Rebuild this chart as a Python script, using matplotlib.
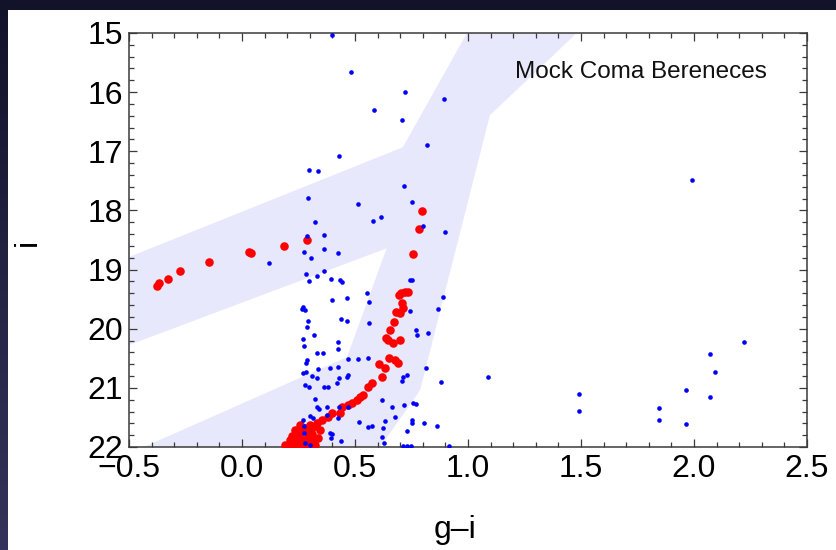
import numpy as np
import matplotlib
matplotlib.use("Agg")
import matplotlib.pyplot as plt
from matplotlib.patches import Rectangle
from matplotlib.ticker import MultipleLocator

plt.rcParams['font.family'] = ['Liberation Sans', 'DejaVu Sans']

# ---- selection regions in the colour-magnitude plane (g-i, i) ----
hb_band_gi = [-0.6, 0.85, 0.85, -0.6]
hb_band_i = [18.94, 16.72, 18.34, 20.42]

rgb_band_gi = [-0.612, 0.465, 0.64, 0.712, 1.025, 1.537, 1.097, 0.788, 0.556]
rgb_band_i = [22.3, 20.48, 18.64, 16.93, 14.8, 14.8, 16.39, 21.04, 22.3]

# ---- mock member stars (red) ----
member_gi = [
    -0.376, -0.367, -0.327, -0.274, -0.146, 0.031, 0.040, 0.186, 0.288,
    0.796, 0.783, 0.757, 0.735, 0.721, 0.704, 0.695, 0.708, 0.712, 0.681,
    0.699, 0.673, 0.655, 0.637, 0.646, 0.668, 0.699, 0.650, 0.677, 0.690,
    0.606, 0.633, 0.619, 0.575, 0.558, 0.535, 0.522, 0.509, 0.487, 0.469,
    0.442, 0.434, 0.398, 0.381, 0.354, 0.332, 0.314, 0.288, 0.257, 0.243,
    0.226,
    0.257, 0.279, 0.301, 0.235, 0.243, 0.270, 0.292, 0.310, 0.212, 0.235,
    0.257, 0.279, 0.323, 0.336, 0.204, 0.221, 0.265, 0.301, 0.345, 0.190,
    0.239, 0.283, 0.310, 0.252, 0.217, 0.296,
]
member_i = [
    19.28, 19.23, 19.16, 19.02, 18.87, 18.70, 18.72, 18.60, 18.50,
    18.01, 18.31, 18.74, 19.38, 19.38, 19.40, 19.43, 19.57, 19.65, 19.72,
    19.73, 19.89, 20.02, 20.16, 20.19, 20.24, 20.19, 20.50, 20.53, 20.58,
    20.60, 20.66, 20.82, 20.92, 20.99, 21.12, 21.15, 21.21, 21.26, 21.29,
    21.32, 21.43, 21.43, 21.49, 21.54, 21.59, 21.66, 21.71, 21.76, 21.85,
    21.93,
    21.63, 21.68, 21.75, 21.71, 21.80, 21.88, 21.83, 21.90, 21.88, 21.98,
    21.97, 21.98, 21.97, 21.85, 21.98, 21.81, 21.71, 21.63, 21.71, 21.97,
    21.90, 21.93, 21.78, 21.99, 21.99, 21.99,
]

# ---- field stars (blue) ----
field_gi = [
    0.400, 0.482, 0.584, 0.708, 0.721, 0.894, 0.819, 0.429, 0.296, 0.336,
    0.717, 0.752, 0.801, 0.898, 0.615, 0.580, 1.991, 0.292, 0.513, 0.323,
    0.363, 0.288, 0.274, 0.363, 0.425, 0.305, 0.119, 0.283, 0.332, 0.363,
    0.296, 0.394, 0.434, 0.442, 0.553, 0.562, 0.465, 0.398, 0.743, 0.752,
    0.889, 0.867, 0.743, 0.270, 0.265, 0.279, 0.438, 0.465, 0.292, 0.288,
    0.562, 0.770, 0.774, 0.823, 0.319, 0.270, 0.425, 0.425, 0.274, 0.332,
    0.358, 0.469, 0.513, 0.558, 0.814, 0.288, 0.283, 0.389, 0.425, 0.336,
    0.469, 0.465, 0.270, 0.283, 0.310, 0.381, 0.363, 0.420, 0.429, 0.332,
    0.279, 0.296, 0.712, 0.730, 0.708, 0.881, 1.090, 0.323, 0.332, 0.341,
    0.619, 0.664, 0.717, 0.757, 0.770, 0.469, 0.429, 0.376, 0.376, 0.425,
    0.314, 0.301, 0.270, 0.677, 0.518, 0.633, 0.575, 0.624, 0.752, 0.752,
    0.805, 0.863, 0.730, 0.619, 0.628, 0.398, 0.394, 0.438, 0.274, 0.274,
    0.279, 0.301, 0.916, 0.712, 0.730, 0.748, 0.389, 0.558,
    1.491, 1.491, 1.845, 1.845, 1.965, 1.965, 2.071, 2.093, 2.071, 2.221,
]
field_i = [
    15.03, 15.66, 16.30, 16.47, 16.00, 16.12, 16.89, 17.08, 17.32, 17.33,
    17.59, 17.86, 18.26, 18.36, 18.11, 18.18, 17.49, 17.79, 17.89, 18.20,
    18.42, 18.43, 18.70, 18.65, 18.72, 18.80, 18.89, 19.08, 19.11, 19.02,
    19.19, 19.16, 19.18, 19.21, 19.40, 19.55, 19.48, 19.51, 19.18, 19.18,
    19.46, 19.67, 19.70, 19.63, 19.66, 19.68, 19.84, 19.87, 19.87, 19.97,
    19.90, 20.02, 20.11, 20.07, 20.11, 20.17, 20.22, 20.34, 20.29, 20.41,
    20.41, 20.51, 20.51, 20.50, 20.66, 20.53, 20.58, 20.66, 20.65, 20.68,
    20.78, 20.82, 20.75, 20.73, 20.80, 20.99, 20.99, 20.92, 20.83, 20.83,
    20.95, 20.99, 20.82, 20.78, 20.88, 20.90, 20.82, 21.19, 21.32, 21.36,
    21.21, 21.32, 21.29, 21.26, 21.27, 21.32, 21.32, 21.32, 21.46, 21.51,
    21.51, 21.48, 21.54, 21.49, 21.58, 21.56, 21.65, 21.68, 21.54, 21.59,
    21.59, 21.65, 21.73, 21.83, 21.93, 21.78, 21.85, 21.90, 21.65, 21.76,
    21.93, 21.97, 21.98, 21.99, 21.99, 21.99, 21.76, 21.66,
    21.10, 21.39, 21.34, 21.55, 21.04, 21.61, 20.43, 20.73, 21.15, 20.22,
]

x_ticks = [-0.5, 0.0, 0.5, 1.0, 1.5, 2.0, 2.5]
y_ticks = [15, 16, 17, 18, 19, 20, 21, 22]

W, H = 837, 550
fig = plt.figure(figsize=(W / 100, H / 100), dpi=100)

# dark slide backdrop with a white card behind the plot
bg = fig.add_axes([0, 0, 1, 1], zorder=-10)
t = np.linspace(0, 1, H)[:, None] * np.ones((1, W))
top_c = np.array([18, 18, 42]) / 255
bot_c = np.array([52, 52, 92]) / 255
img = top_c + (bot_c - top_c) * t[..., None]
bg.imshow(img, aspect='auto', extent=[0, 1, 0, 1])
bg.add_patch(Rectangle((8 / W, 0), 1, (H - 10) / H, color='white', lw=0))
bg.set_xlim(0, 1)
bg.set_ylim(0, 1)
bg.axis('off')

ax = fig.add_axes([129 / W, 1 - 447 / H, 678 / W, 414 / H])
band_color = '#e8e8fc'
ax.fill(rgb_band_gi, rgb_band_i, color=band_color, lw=0, zorder=1)
ax.fill(hb_band_gi, hb_band_i, color=band_color, lw=0, zorder=1)

ax.scatter(member_gi, member_i, s=38, color='#ff0000', lw=0, zorder=3)
ax.scatter(field_gi, field_i, s=11, color='#0000ff', lw=0, zorder=4)

ax.set_xlim(-0.5, 2.5)
ax.set_ylim(22, 15)
ax.set_xticks(x_ticks)
ax.set_xticklabels([f"{v:.1f}".replace('-', '\u2212') for v in x_ticks])
ax.set_yticks(y_ticks)
ax.set_yticklabels([str(v) for v in y_ticks])
ax.xaxis.set_minor_locator(MultipleLocator(0.1))
ax.yaxis.set_minor_locator(MultipleLocator(0.2))

frame_c = '#3a3a3a'
for sp in ax.spines.values():
    sp.set_color(frame_c)
    sp.set_linewidth(1.1)
ax.tick_params(which='both', direction='in', top=True, right=True,
               color=frame_c, width=0.9, labelsize=23, labelcolor='black')
ax.tick_params(which='major', length=6)
ax.tick_params(which='minor', length=3.5)
ax.tick_params(axis='x', which='major', pad=5)
ax.tick_params(axis='y', which='major', pad=4)

ax.text(1.208, 15.66, 'Mock Coma Bereneces', fontsize=17.5,
        ha='left', va='center', color='#111111', zorder=5)

fig.text(455 / W, 1 - 530 / H, 'g\u2013i', fontsize=23, ha='center', va='center')
fig.text(28 / W, 1 - 242 / H, 'i', fontsize=23, ha='center', va='center', rotation=90)

fig.savefig('out.png', dpi=100)
